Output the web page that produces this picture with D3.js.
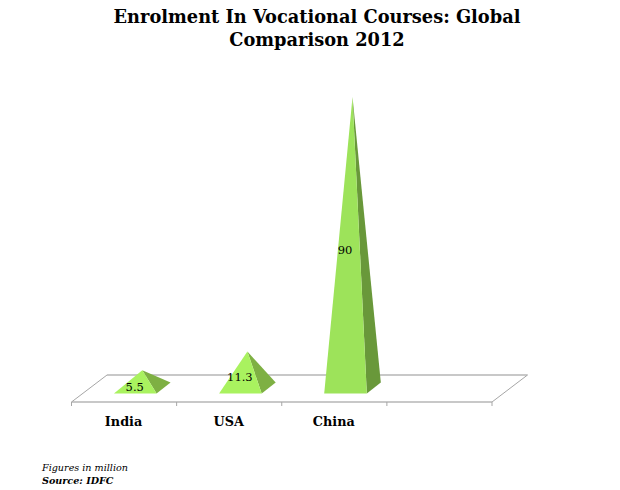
<!DOCTYPE html>
<html><head><meta charset="utf-8">
<script src="https://cdn.jsdelivr.net/npm/d3@7/dist/d3.min.js"></script>
<style>html,body{margin:0;padding:0;background:#fff}svg{display:block}text{font-family:"DejaVu Serif",serif;fill:#000}</style>
</head><body><svg id="c" width="620" height="490"></svg>
<script>
const titleLines = ["Enrolment In Vocational Courses: Global", "Comparison 2012"];
const categories = ["India", "USA", "China", ""];
const values = [5.5, 11.3, 90];
const valueLabels = ["5.5", "11.3", "90"];
const notes = ["Figures in million", "Source: IDFC"];
const frontFill = ["#a9f25f", "#a9f25f", "#9de35a"];
const sideFill = ["#7eb043", "#7eb043", "#69983a"];

const svg = d3.select("#c");
const x = d3.scaleBand().domain(categories).range([71.5, 492]);
const y = d3.scaleLinear().domain([0, 90]).range([388, 97]);
const frontY = 402, backY = 375, depthX = 35.5, tickLen = 4;
const baseFront = 393.5, baseBack = 382.5, halfW = 21.3, shift = 11.2, baseDepth = 14;
const tickXs = x.domain().map(d => x(d)).concat([492]);

svg.selectAll("text.title").data(titleLines).join("text")
  .attr("x", 317).attr("y", (d, i) => 23 + i * 23).attr("text-anchor", "middle")
  .attr("font-size", 17.8).attr("font-weight", "bold").text(d => d);

const grid = svg.append("g").attr("fill", "none");
grid.append("line").attr("x1", 71.5 + depthX).attr("x2", 492 + depthX).attr("y1", backY).attr("y2", backY).attr("stroke", "#c8c8c8").attr("stroke-width", 2);
grid.append("line").attr("x1", 71.5).attr("x2", 492).attr("y1", frontY).attr("y2", frontY).attr("stroke", "#c8c8c8").attr("stroke-width", 2);
[71.5, 492].forEach(x0 => grid.append("line").attr("x1", x0).attr("x2", x0 + depthX).attr("y1", frontY).attr("y2", backY).attr("stroke", "#a6a6a6").attr("stroke-width", 1));
grid.selectAll("line.tick").data(tickXs).join("line").attr("class", "tick")
  .attr("x1", d => d).attr("x2", d => d).attr("y1", frontY).attr("y2", frontY + tickLen)
  .attr("stroke", "#a6a6a6").attr("stroke-width", 1);

const cx = (i) => x(categories[i]) + x.bandwidth() / 2 + shift;
const g = svg.append("g");
values.forEach((v, i) => {
  const c = cx(i), l = c - halfW, r = c + halfW, ax = c + baseDepth / 2;
  const line = d3.line();
  g.append("path").attr("d", line([[r, baseFront], [r + baseDepth, baseBack], [ax, y(v)]]) + "Z").attr("fill", sideFill[i]);
  g.append("path").attr("d", line([[l, baseFront], [r, baseFront], [ax, y(v)]]) + "Z").attr("fill", frontFill[i]);
  g.append("text").attr("x", c - 0.5).attr("y", (y(v) + baseFront) / 2 + 5 + 4)
    .attr("text-anchor", "middle").attr("font-size", 11.5).text(valueLabels[i]);
});

svg.selectAll("text.cat").data(categories.filter(d => d)).join("text")
  .attr("x", d => x(d) + x.bandwidth() / 2 - 0.5).attr("y", 426).attr("text-anchor", "middle")
  .attr("font-size", 12.8).attr("font-weight", "bold").text(d => d);

svg.append("text").attr("x", 42).attr("y", 471).attr("font-size", 9.6).attr("font-style", "italic").text(notes[0]);
svg.append("text").attr("x", 42).attr("y", 484).attr("font-size", 9.6).attr("font-style", "italic").attr("font-weight", "bold").text(notes[1]);
</script></body></html>
